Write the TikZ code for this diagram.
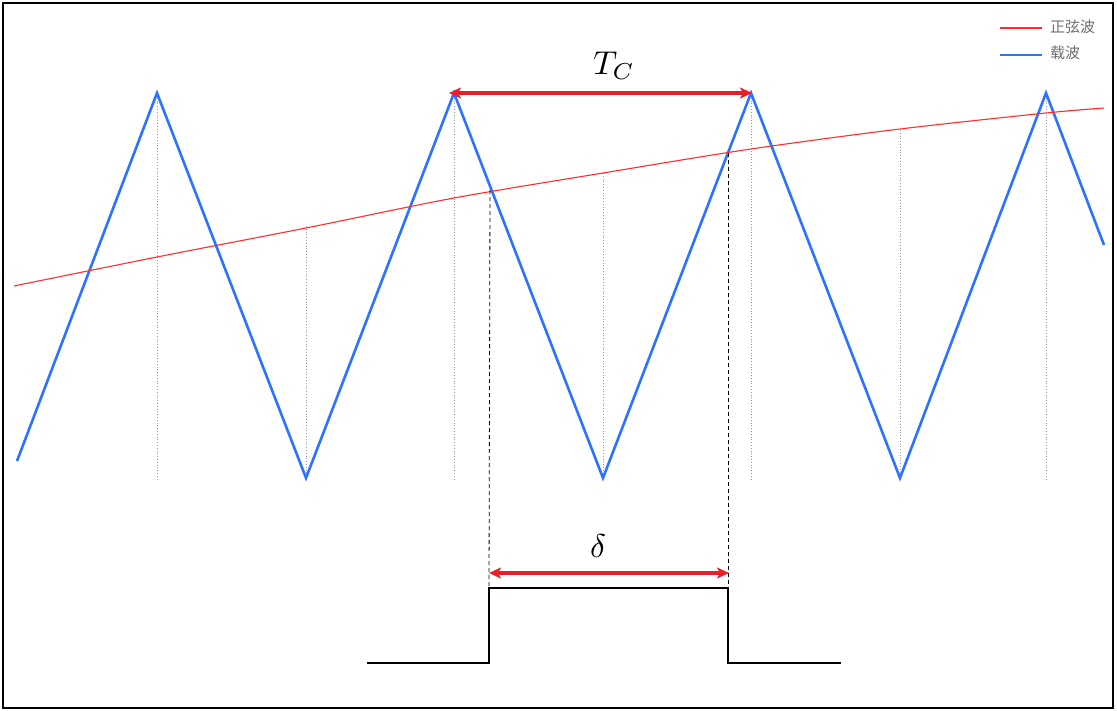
\documentclass[tikz,border=0pt]{standalone}
\usepackage{fontspec}
\newfontfamily\cjk{Noto Sans CJK SC}
\usetikzlibrary{arrows.meta}
\definecolor{carrier}{RGB}{45,115,255}
\definecolor{sinered}{RGB}{255,45,45}
\definecolor{arrowred}{RGB}{235,30,40}
\definecolor{legendgray}{RGB}{110,110,110}
\tikzset{
  carrierline/.style={carrier,line width=2.6pt,line join=miter},
  sineline/.style={sinered,line width=1.1pt},
  guide/.style={gray!80,line width=0.8pt,dotted},
  projline/.style={black,line width=0.8pt,dash pattern=on 4pt off 3pt},
  measure/.style={arrowred,line width=3.2pt,{Stealth[length=12pt,width=11pt,inset=3pt]}-{Stealth[length=12pt,width=11pt,inset=3pt]}},
  pulse/.style={black,line width=1.8pt},
  mathlabel/.style={scale=3.3,inner sep=0pt},
  legendtext/.style={font=\cjk\fontsize{15}{17}\selectfont,text=legendgray,anchor=west,inner sep=0pt}
}
\begin{document}
\begin{tikzpicture}[x=1pt,y=-1pt]
\useasboundingbox (0,0) rectangle (1117,710);
\fill[white] (0,0) rectangle (1117,710);
\draw[black,line width=2.6pt] (3,3) rectangle (1113,708);

% dotted guides
\foreach \x in {157,454,751,1046} \draw[guide] (\x,95) -- (\x,480);
\draw[guide] (306,226) -- (306,478);
\draw[guide] (603,173) -- (603,478);
\draw[guide] (900,130) -- (900,478);
\draw[guide] (1068,111) -- (1100,109);

% carrier
\draw[carrierline] (17,461) -- (157,93) -- (306,478) -- (454,93) -- (603,478) -- (751,93) -- (900,478) -- (1046,93) -- (1104,245);

% sine
\draw[sineline] plot[smooth] coordinates {(14,286) (157,257) (306,228) (454,198) (603,173) (751,149) (900,129) (1046,113) (1104,108)};

% key points
\coordinate (p1) at (490,190);
\coordinate (p2) at (728,153);
\coordinate (b1) at (489,588);
\coordinate (b2) at (728,588);
\coordinate (g1) at (367,663);
\coordinate (g2) at (841,663);
\coordinate (f1) at (489,663);
\coordinate (f2) at (728,663);

\draw[projline] (p1) -- (b1);
\draw[projline] (p2) -- (b2);

% pulse
\draw[pulse] (g1) -- (f1) -- (b1) -- (b2) -- (f2) -- (g2);

% measurements
\coordinate (t1) at (449,93);
\coordinate (t2) at (752,93);
\draw[measure] (t1) -- (t2);
\node[mathlabel] (tc) at (614,66) {$T_C$};
\coordinate (d1) at (489,573);
\coordinate (d2) at (729,573);
\draw[measure] (d1) -- (d2);
\node[mathlabel] (delta) at (598,546) {$\delta$};

% legend
\coordinate (l1a) at (1000,28);
\coordinate (l1b) at (1042,28);
\draw[sinered,line width=1.3pt] (l1a) -- (l1b);
\node[legendtext] (l1) at (1050,27) {正弦波};
\coordinate (l2a) at (1000,55);
\coordinate (l2b) at (1042,55);
\draw[carrier,line width=1.3pt] (l2a) -- (l2b);
\node[legendtext] (l2) at (1050,53) {载波};
\end{tikzpicture}
\end{document}
